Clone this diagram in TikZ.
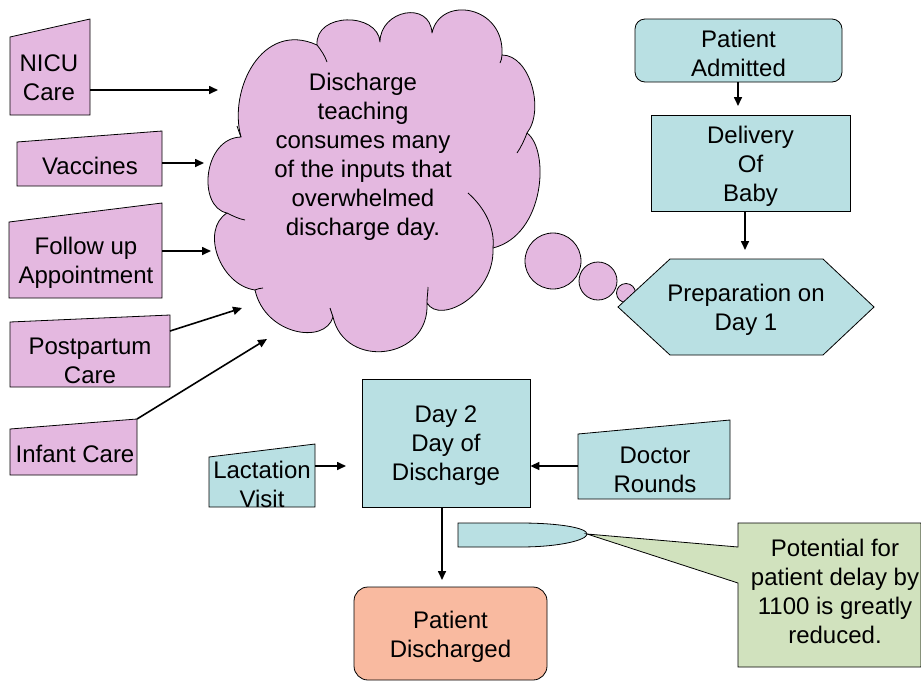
\documentclass[tikz,border=0pt]{standalone}
\usepackage{fontspec}
\setmainfont{Liberation Sans}
\usetikzlibrary{arrows.meta}
\definecolor{pinkf}{RGB}{228,184,224}
\definecolor{bluef}{RGB}{185,224,227}
\definecolor{greenf}{RGB}{209,226,190}
\definecolor{salmonf}{RGB}{249,186,160}
\begin{document}
\begin{tikzpicture}[x=1pt,y=-1pt,
  txt/.style={font=\fontsize{24}{29}\selectfont, align=center, inner sep=0pt},
  boxtxt/.style={txt, yshift=-3pt},
  outl/.style={draw=black, line width=0.8pt},
  arr/.style={-{Triangle[length=9pt,width=8pt]}, line width=1.6pt}]
\useasboundingbox (0,0) rectangle (921,681);

% cloud
\draw[outl, fill=pinkf, line join=round]
  (227,213) .. controls (197,207) and (203,138) .. (241,137)
  .. controls (228,90) and (262,20) .. (317,45)
  .. controls (315,12) and (378,12) .. (380,42)
  .. controls (380,10) and (430,0) .. (432,33)
  .. controls (440,-5) and (505,5) .. (502,55)
  .. controls (530,55) and (545,110) .. (527,133)
  .. controls (550,150) and (545,235) .. (493,248)
  .. controls (495,295) and (440,325) .. (427,303)
  .. controls (430,360) and (345,370) .. (333,317)
  .. controls (325,345) and (265,335) .. (255,290)
  .. controls (220,285) and (200,230) .. (227,213) -- cycle;
\draw[outl] (241,137) .. controls (239,132) and (238,129) .. (237,126);
\draw[outl] (317,45) .. controls (321,50) and (325,56) .. (327,62);
\draw[outl] (502,55) .. controls (502,58) and (501,61) .. (500,63);
\draw[outl] (527,133) .. controls (524,141) and (521,147) .. (517,153);
\draw[outl] (468,193) .. controls (485,208) and (495,228) .. (493,248);
\draw[outl] (427,303) .. controls (427,297) and (428,292) .. (428,287);
\draw[outl] (333,317) .. controls (332,314) and (331,311) .. (330,308);
\draw[outl] (255,290) .. controls (258,289) and (260,288) .. (263,288);
\draw[outl] (227,213) .. controls (233,216) and (239,219) .. (245,220);
\node[txt] (cloudtxt) at (363,157) {Discharge\\teaching\\consumes many\\of the inputs that\\overwhelmed\\discharge day.};
\draw[outl, fill=pinkf] (553,261) circle[radius=28pt];
\draw[outl, fill=pinkf] (598,281) circle[radius=19pt];
\draw[outl, fill=pinkf] (626,293) circle[radius=9.5pt];

% manual inputs (pink)
\draw[outl, fill=pinkf] (10,37) -- (90,19) -- (90,115) -- (10,115) -- cycle;
\node[txt] (nicu) at (49,78) {NICU\\Care};
\draw[outl, fill=pinkf] (17,142) -- (162,131) -- (162,186) -- (17,186) -- cycle;
\node[txt] (vacc) at (90,166) {Vaccines};
\draw[outl, fill=pinkf] (9,222) -- (162,203) -- (162,298) -- (9,298) -- cycle;
\node[txt] (follow) at (86,263) {Follow up\\Appointment};
\draw[outl, fill=pinkf] (10,322) -- (170,315) -- (170,387) -- (10,387) -- cycle;
\node[txt] (post) at (90,361) {Postpartum\\Care};
\draw[outl, fill=pinkf] (10,429) -- (137,419) -- (137,475) -- (10,475) -- cycle;
\node[txt] (infant) at (75,454) {Infant Care};

% manual inputs (blue)
\draw[outl, fill=bluef] (209,457) -- (315,444) -- (315,507) -- (209,507) -- cycle;
\node[txt] (lact) at (262,484) {Lactation\\Visit};
\draw[outl, fill=bluef] (578,434) -- (730,420) -- (730,499) -- (578,499) -- cycle;
\node[txt] (doctor) at (655,470) {Doctor\\Rounds};

% process boxes
\node[outl, fill=bluef, rounded corners=10pt, minimum width=207pt, minimum height=63pt,
  label={[boxtxt]center:Patient\\Admitted}] (admit) at (738.5,50.5) {};
\node[outl, fill=bluef, minimum width=199pt, minimum height=96pt,
  label={[boxtxt]center:Delivery\\Of\\Baby}] (delivery) at (750.5,163) {};
\draw[outl, fill=bluef] (618,307) -- (670,259) -- (823,259) -- (874,307) -- (823,355) -- (670,355) -- cycle;
\node[txt] (prep) at (746,310) {Preparation on\\Day 1};
\node[outl, fill=bluef, minimum width=168pt, minimum height=128pt,
  label={[boxtxt]center:Day 2\\Day of\\Discharge}] (day2) at (446,443) {};
\node[outl, fill=salmonf, rounded corners=14pt, minimum width=193pt, minimum height=93pt,
  label={[boxtxt]center:Patient\\Discharged}] (disch) at (450.5,633.5) {};

% callout
\draw[outl, fill=bluef] (458,523) -- (520,523) .. controls (560,523) and (587,528) .. (587,534) .. controls (587,540) and (560,547) .. (520,547) -- (458,547) -- cycle;
\coordinate (tip) at (587,534);
\draw[outl, fill=greenf] (738,523) -- (921,523) -- (921,667) -- (738,667) -- (738,583) -- (tip) -- (738,547) -- cycle;
\node[txt] (note) at (835,591) {Potential for\\patient delay by\\1100 is greatly\\reduced.};

% connectors
\coordinate (nicuR) at (90,90);   \coordinate (nicuE) at (218,90);
\coordinate (vaccR) at (162,163); \coordinate (vaccE) at (204,163);
\coordinate (follR) at (162,251); \coordinate (follE) at (211,251);
\coordinate (postR) at (170,331); \coordinate (postE) at (242,308);
\coordinate (infR) at (137,419);  \coordinate (infE) at (267,339);
\coordinate (lactR) at (315,466); \coordinate (lactE) at (346,466);
\coordinate (docL) at (578,466);
\coordinate (d2S) at (442,507);   \coordinate (dcN) at (442,580);
\coordinate (adS) at (738,82);    \coordinate (dlN) at (738,106);
\coordinate (dlS) at (745,211);   \coordinate (prN) at (745,250);
\draw[arr] (nicuR) -- (nicuE);
\draw[arr] (vaccR) -- (vaccE);
\draw[arr] (follR) -- (follE);
\draw[arr] (postR) -- (postE);
\draw[arr] (infR) -- (infE);
\draw[arr] (lactR) -- (lactE);
\draw[arr] (docL) -- (day2.east |- docL);
\draw[arr] (d2S) -- (dcN);
\draw[arr] (adS) -- (dlN);
\draw[arr] (dlS) -- (prN);
\end{tikzpicture}
\end{document}
